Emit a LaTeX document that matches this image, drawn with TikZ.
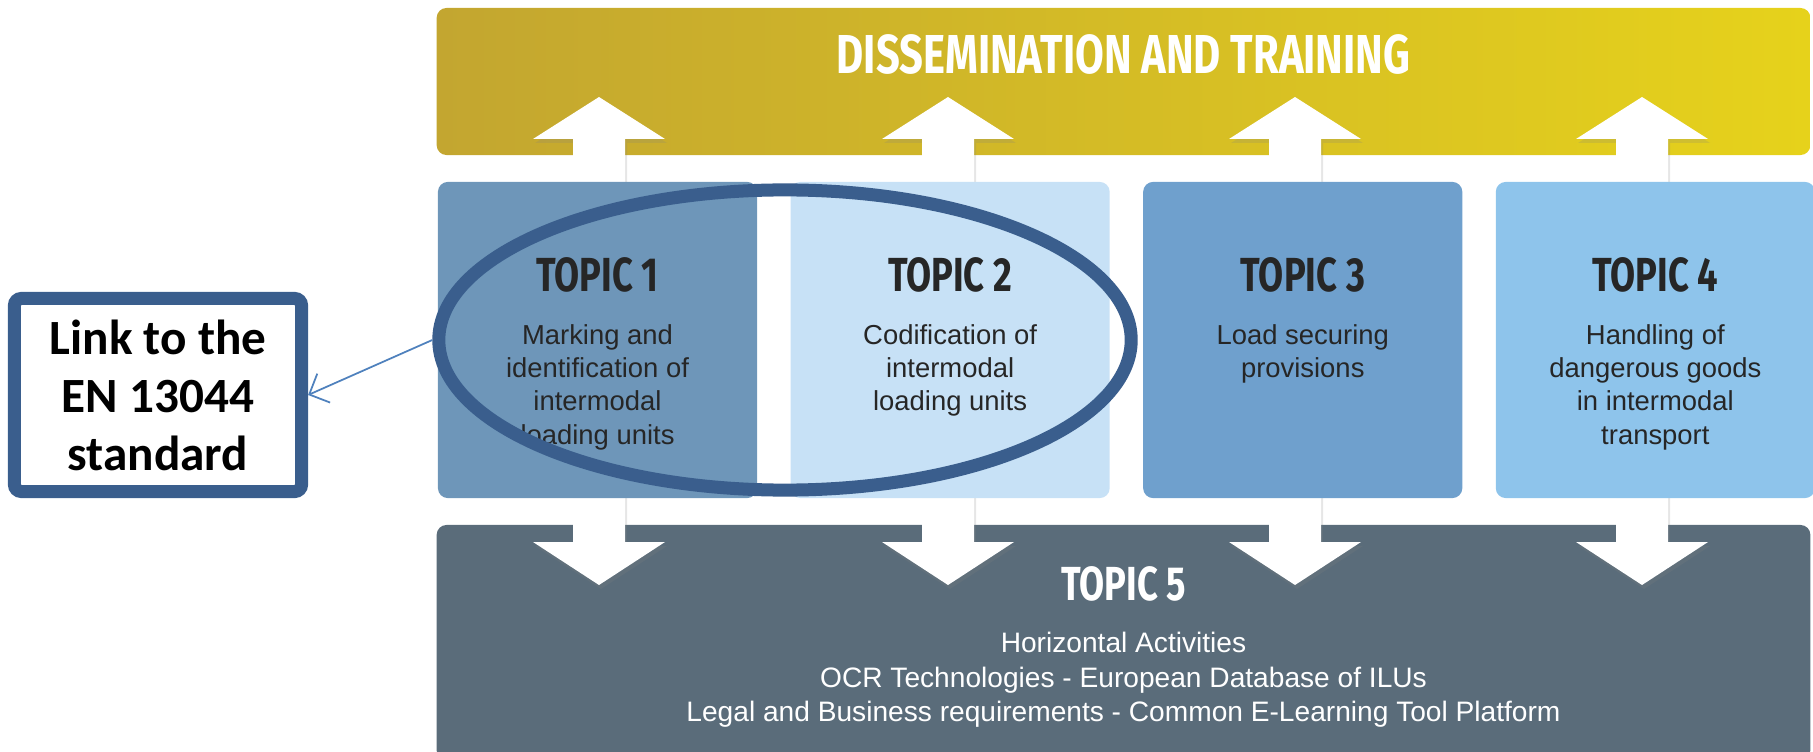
\documentclass[tikz,border=0pt]{standalone}
\usepackage{xcolor}
\usepackage{tikz}
\usepackage{fontspec}
\setmainfont{Liberation Sans}
\newfontfamily\dinfont[FakeStretch=0.76]{Fira Sans}
\newfontfamily\calfont{Carlito}
\usetikzlibrary{shapes.geometric, arrows.meta, positioning, shadows}
\definecolor{goldleft}{HTML}{C3A630}
\definecolor{goldright}{HTML}{E6D21B}
\definecolor{topicA}{HTML}{6E96B9}
\definecolor{topicB}{HTML}{C7E1F6}
\definecolor{topicC}{HTML}{6FA0CD}
\definecolor{topicD}{HTML}{8EC4EB}
\definecolor{slate}{HTML}{5A6C7A}
\definecolor{frameblue}{HTML}{3A5E8D}
\definecolor{pointer}{HTML}{4F81BD}
\definecolor{inkgray}{HTML}{262626}
\tikzstyle{bar} = [rectangle, rounded corners=0.1cm, inner sep=0pt, minimum width=13.73cm]
\tikzstyle{topic} = [rectangle, rounded corners=0.1cm, inner sep=0pt, minimum width=3.19cm, minimum height=3.16cm]
\tikzstyle{heading} = [inner sep=0pt, text=inkgray, font=\dinfont\bfseries\fontsize{13.6}{14}\selectfont]
\tikzstyle{body} = [inner sep=0pt, align=center, text=inkgray, font=\fontsize{7.8}{9.5}\selectfont]
\tikzstyle{bigarrow} = [fill=white, drop shadow={shadow xshift=0.02cm, shadow yshift=-0.04cm, opacity=0.2}]
\tikzstyle{focus} = [ellipse, draw=frameblue, line width=0.13cm, minimum width=6.92cm, minimum height=3cm, inner sep=0pt]
\tikzstyle{linkbox} = [rectangle, draw=frameblue, fill=white, line width=0.13cm, rounded corners=2pt, minimum width=2.87cm, minimum height=1.93cm, align=center, font=\calfont\bfseries\fontsize{14}{16.5}\selectfont]
\tikzstyle{arrow} = [draw=pointer, line width=0.5pt, -{Straight Barb[length=4.5pt, width=9pt]}]

\begin{document}
\begin{tikzpicture}[x=0.01cm, y=-0.01cm]
    \useasboundingbox (0,0) rectangle (1813,752);
    \clip (0,0) rectangle (1813,752);

    % Bars
    \node[bar, minimum height=1.47cm, left color=goldleft, right color=goldright] (training) at (1123.5,81.5) {};
    \node[heading, text=white, font=\dinfont\bfseries\fontsize{15.6}{16}\selectfont, below=0.27cm of training.north] (title) {DISSEMINATION AND TRAINING};
    \node[bar, minimum height=2.35cm, fill=slate] (topic5) at (1123.5,642.5) {};

    % Arrows
    \foreach \x in {599,948,1295,1642}
        \path[bigarrow] (\x,97) -- (\x+66,139) -- (\x+26,139) -- (\x+26,542) -- (\x+66,542) -- (\x,585)
            -- (\x-66,542) -- (\x-26,542) -- (\x-26,139) -- (\x-66,139) -- cycle;

    % Topics
    \node[topic, fill=topicA] (topic1) at (597.5,340) {};
    \node[topic, fill=topicB, right=0.32cm of topic1] (topic2) {};
    \node[topic, fill=topicC, right=0.32cm of topic2] (topic3) {};
    \node[topic, fill=topicD, right=0.32cm of topic3] (topic4) {};

    \node[heading, below=0.76cm of topic1.north] (head1) {TOPIC 1};
    \node[body, below=0.3cm of head1] (text1) {Marking and\\identification of\\intermodal\\loading units};
    \node[heading, below=0.76cm of topic2.north] (head2) {TOPIC 2};
    \node[body, below=0.3cm of head2] (text2) {Codification of\\intermodal\\loading units};
    \node[heading, below=0.76cm of topic3.north] (head3) {TOPIC 3};
    \node[body, below=0.3cm of head3] (text3) {Load securing\\provisions};
    \node[heading, below=0.76cm of topic4.north] (head4) {TOPIC 4};
    \node[body, below=0.3cm of head4] (text4) {Handling of\\dangerous goods\\in intermodal\\transport};

    \node[heading, text=white, below=0.42cm of topic5.north] (head5) {TOPIC 5};
    \node[body, text=white, font=\fontsize{8}{9.8}\selectfont, below=0.29cm of head5] (text5) {Horizontal Activities\\
        OCR Technologies - European Database of ILUs\\
        Legal and Business requirements - Common E-Learning Tool Platform};

    % Highlight
    \node[focus] (ring) at (785,340) {};
    \node[linkbox] (link) at (158,395) {Link to the\\EN 13044\\standard};

    % Connections
    \draw[arrow] (ring.west) -- (link.east);

\end{tikzpicture}
\end{document}
